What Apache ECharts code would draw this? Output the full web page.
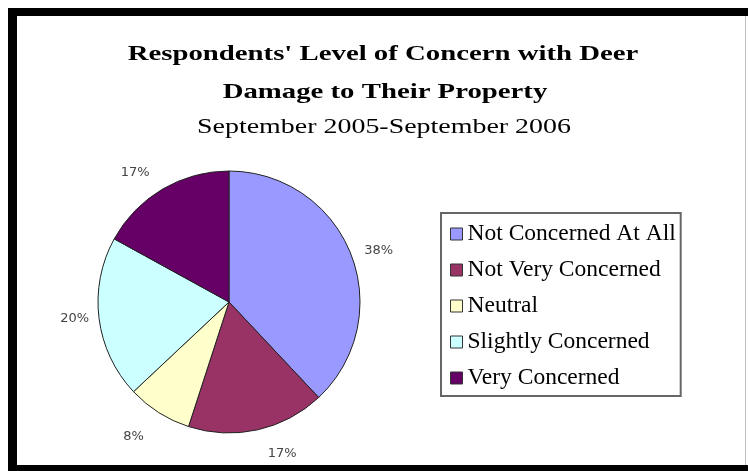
<!DOCTYPE html>
<html>
<head>
<meta charset="utf-8">
<script src="https://cdn.jsdelivr.net/npm/echarts@6/dist/echarts.min.js"></script>
<style>
html,body{margin:0;padding:0;background:#fff;}
#chart{width:748px;height:471px;}
</style>
</head>
<body>
<div id="chart"></div>
<script>
const titleLines = ["Respondents' Level of Concern with Deer", "Damage to Their Property"];
const subtitle = "September 2005-September 2006";
const categories = ["Not Concerned At All", "Not Very Concerned", "Neutral", "Slightly Concerned", "Very Concerned"];
const percents = [38, 17, 8, 20, 17];
const colors = ["#9999FF", "#993366", "#FFFFCC", "#CCFFFF", "#660066"];
// per-slice label offsets from the edge (Excel places them unevenly)
const labelLengths = [9, 24, 28, 5, 19];
const labelGaps = [5, 5, 0, 5, 3];

const chart = echarts.init(document.getElementById('chart'), null, {renderer: 'canvas'});

function titleText(txt, x, y, bold, sx) {
  return {
    type: 'text', x: x, y: y, scaleX: sx, scaleY: 1, silent: true,
    style: {
      text: txt, x: 0, y: 0,
      font: (bold ? 'bold ' : '') + '21px "Liberation Serif", "Times New Roman", serif',
      fill: '#000',
      textAlign: 'center', align: 'center',
      textVerticalAlign: 'middle', verticalAlign: 'middle'
    }
  };
}

const option = {
  backgroundColor: '#fff',
  animation: false,
  color: colors,
  legend: {
    orient: 'vertical',
    left: 441, top: 213,
    padding: [9, 5, 6, 9],
    itemGap: 12,
    itemWidth: 12, itemHeight: 12,
    itemTextGap: 8,
    icon: 'rect',
    borderColor: '#666', borderWidth: 2,
    backgroundColor: '#fff',
    textStyle: {fontFamily: '"Liberation Serif", serif', fontSize: 23.5, lineHeight: 24, color: '#000'},
    itemStyle: {borderColor: '#333', borderWidth: 1},
    data: categories
  },
  series: [{
    type: 'pie',
    center: [229, 302],
    radius: 131,
    startAngle: 90,
    clockwise: true,
    avoidLabelOverlap: false,
    itemStyle: {borderColor: '#222', borderWidth: 1},
    label: {
      show: true, position: 'outside',
      formatter: p => p.value + '%',
      fontFamily: '"DejaVu Sans", Verdana, sans-serif',
      fontSize: 13, color: '#444'
    },
    labelLine: {show: false, length: 9, length2: 0},
    emphasis: {disabled: true},
    data: categories.map((c, i) => ({
      name: c, value: percents[i],
      label: {distanceToLabelLine: labelGaps[i]},
      labelLine: {show: false, length: labelLengths[i], length2: 0}
    }))
  }],
  graphic: [
    titleText(titleLines[0], 383, 55, true, 1.37),
    titleText(titleLines[1], 385, 93, true, 1.37),
    titleText(subtitle, 384, 127, false, 1.33),
    {type: 'rect', shape: {x: 8, y: 8, width: 740, height: 8}, style: {fill: '#000'}, silent: true},
    {type: 'rect', shape: {x: 8, y: 8, width: 9, height: 463}, style: {fill: '#000'}, silent: true},
    {type: 'rect', shape: {x: 8, y: 465, width: 740, height: 6}, style: {fill: '#000'}, silent: true},
    {type: 'rect', shape: {x: 745, y: 16, width: 1, height: 449}, style: {fill: '#bbb'}, silent: true}
  ]
};
chart.setOption(option);
</script>
</body>
</html>
